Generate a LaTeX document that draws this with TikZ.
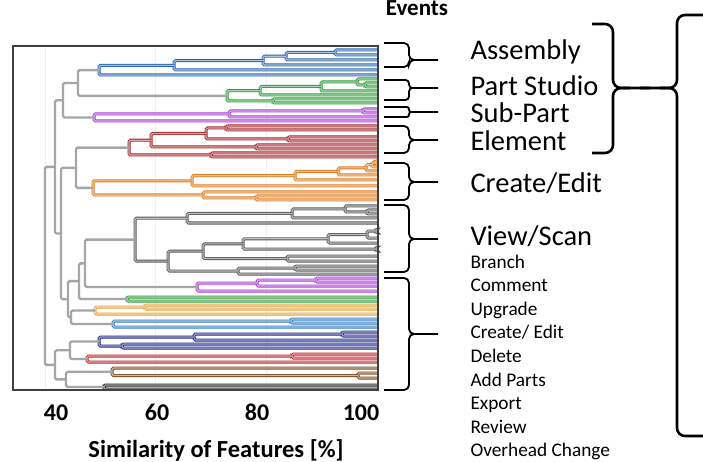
\documentclass[tikz,border=0pt]{standalone}
\usepackage{fontspec}
\setmainfont{Carlito}
\usepackage{xcolor}
\usepackage{tikz}
\usetikzlibrary{calc}
\definecolor{treegray}{HTML}{A6A6A6}
\definecolor{gridgray}{HTML}{F0F0F0}
\definecolor{cAsm}{HTML}{2B67B0}
\definecolor{cPart}{HTML}{2E9B3A}
\definecolor{cSub}{HTML}{A93BD6}
\definecolor{cElem}{HTML}{A3262A}
\definecolor{cEdit}{HTML}{E07B1C}
\definecolor{cView}{HTML}{5A5A5A}
\definecolor{cGold}{HTML}{E5A23A}
\definecolor{cBlue}{HTML}{2F7BC8}
\definecolor{cNavy}{HTML}{1F2A88}
\definecolor{cRed}{HTML}{C0272D}
\definecolor{cBrown}{HTML}{7B4A1C}
\definecolor{cBlack}{HTML}{222222}
\tikzset{
  tree/.style={line width=2.4pt, draw=treegray, rounded corners=1.5pt},
  clus/.style={line width=0.95pt, draw=#1, double=#1!40, double distance=1.1pt, rounded corners=1.5pt},
  frame/.style={line width=1.2pt, draw=black!75},
  brc/.style={line width=1.8pt},
  bigbrc/.style={line width=2.6pt, rounded corners=8pt},
  evhead/.style={anchor=base, font=\fontsize{23}{26}\selectfont\bfseries},
  evbig/.style={anchor=base west, font=\fontsize{28.5}{30}\selectfont},
  evsmall/.style={anchor=base west, font=\fontsize{19.3}{21}\selectfont},
  tick/.style={anchor=base, font=\fontsize{24}{26}\selectfont\bfseries},
  axlab/.style={anchor=base, font=\fontsize{24.5}{26}\selectfont\bfseries}
}
% merge of two branches: style, name, similarity x, upper, lower
\newcommand{\dmerge}[5]{%
  \coordinate (#2) at ($(#4)!0.5!(#5)$);
  \coordinate (#2) at (#3,0 |- #2);
  \draw[#1] (#4) -| (#2) |- (#5);
}
% small event brace: [corner], top, tip, bottom
\newcommand{\ebrace}[4][5pt]{%
  \draw[brc, rounded corners=#1] (384,#2) -- (409,#2) -- (409,#3) -- (438,#3);
  \draw[brc, rounded corners=#1] (384,#4) -- (409,#4) -- (409,#3) -- (420,#3);
}

\begin{document}
\begin{tikzpicture}[x=1pt, y=-1pt]
  \useasboundingbox (0,0) rectangle (703,462);
  \fill[white] (0,0) rectangle (703,462);
  \foreach \x in {45,155,266} \draw[gridgray, line width=0.8pt] (\x,47) -- (\x,389);

  % leaves at 100 %
  \foreach \n/\y in {A1/50,A2/55,A3/60,A4/65,A5/70,A6/75,
      G1/79,G2/83,G3/87,G4/91,G5/95,G6/99,G7/103,
      S1/109,S2/113,S3/117,S4/121,
      E1/126,E2/130,E3/137,E4/141,E5/145,E6/149,E7/153,E8/157,
      C1/161,C2/164,C3/167,C4/171,C5/175,C6/180,C7/186,C8/192,C9/196,C10/200,
      V1/206,V2/210,V3/214,V4/218,V5/223,V6/229,V7/233,V8/238,V9/243,
      V10/247,V11/251,V12/256,V13/261,V14/266,V15/270,V16/274,
      P1/278,P2/282,P3/286,P4/291,Q1/297,Q2/301,O1/305,O2/309,O3/314,
      B1/319,B2/323,B3/327,N1/332,N2/336,N3/340,N4/344,N5/348,
      R1/354,R2/358,R3/362,W1/368,W2/373,W3/378,K1/385,K2/389}
    \coordinate (\n) at (377,\y);

  % clusters
  \foreach \n/\x/\a/\b in {a1/335/A1/A2,a2/286/a1/A3,a3/263/a2/A4,a4/174/a3/A5,a5/99/a4/A6}
    {\dmerge{clus=cAsm}{\n}{\x}{\a}{\b}}
  \foreach \n/\x/\a/\b in {g1/365/G2/G3,g2/357/G1/g1,g3/321/g2/G4,g4/260/g3/G5,g5/273/G6/G7,g6/227/g4/g5}
    {\dmerge{clus=cPart}{\n}{\x}{\a}{\b}}
  \foreach \n/\x/\a/\b in {s1/363/S1/S2,s2/229/s1/S3,s3/94/s2/S4}
    {\dmerge{clus=cSub}{\n}{\x}{\a}{\b}}
  \foreach \n/\x/\a/\b in {e1/226/E1/E2,e2/288/E3/E4,e3/206/e1/e2,e4/256/E5/E6,e5/151/e3/e4,e6/211/E7/E8,e7/129/e5/e6}
    {\dmerge{clus=cElem}{\n}{\x}{\a}{\b}}
  \foreach \n/\x/\a/\b in {c1/375/C1/C2,c2/372/c1/C3,c3/366/c2/C4,c4/338/c3/C5,c5/295/c4/C6,c6/192/c5/C7,
      c7/256/C9/C10,c8/203/C8/c7,c9/93/c6/c8}
    {\dmerge{clus=cEdit}{\n}{\x}{\a}{\b}}
  \foreach \n/\x/\a/\b in {d1/367/V2/V3,d2/345/V1/d1,d3/292/d2/V4,d4/187/d3/V5,d5/376/V6/V7,d6/367/d5/V8,
      d7/328/d6/V9,d8/376/V10/V11,d9/243/d7/d8,d10/287/V12/V13,d11/203/d9/d10,d12/295/V14/V15,
      d13/238/d12/V16,d14/168/d11/d13,d15/135/d4/d14}
    {\dmerge{clus=cView}{\n}{\x}{\a}{\b}}
  \foreach \n/\x/\a/\b in {p1/316/P1/P2,p2/257/p1/P3,p3/197/p2/P4}
    {\dmerge{clus=cSub}{\n}{\x}{\a}{\b}}
  \dmerge{clus=cPart}{q1}{127}{Q1}{Q2}
  \dmerge{clus=cGold}{o1}{145}{O1}{O2}
  \dmerge{clus=cGold}{o2}{95}{o1}{O3}
  \dmerge{clus=cBlue}{u1}{291}{B1}{B2}
  \dmerge{clus=cBlue}{u2}{113}{u1}{B3}
  \foreach \n/\x/\a/\b in {n1/342/N1/N2,n2/194/n1/N3,n3/122/N4/N5,n4/99/n2/n3}
    {\dmerge{clus=cNavy}{\n}{\x}{\a}{\b}}
  \dmerge{clus=cRed}{r1}{292}{R1}{R2}
  \dmerge{clus=cRed}{r2}{87}{r1}{R3}
  \dmerge{clus=cBrown}{w1}{358}{W2}{W3}
  \dmerge{clus=cBrown}{w2}{112}{W1}{w1}
  \dmerge{clus=cBlack}{k1}{104}{K1}{K2}

  % upper tree
  \foreach \n/\x/\a/\b in {t1/78/a5/g6,t2/63/t1/s3,t3/76/e7/c9,t4/85/d15/p3,t5/79/t4/q1,t6/71/o2/u2,
      t7/68/t5/t6,t8/61/t3/t7,t9/55/t2/t8,t10/70/n4/r2,t11/66/w2/k1,t12/55/t10/t11,t13/45/t9/t12}
    {\dmerge{tree}{\n}{\x}{\a}{\b}}

  \draw[frame] (13,46) rectangle (378,390);

  % axis
  \foreach \v/\x in {40/56,60/157,80/257,100/361}
    \node[tick] (tick\v) at (\x,420) {\v};
  \node[axlab] (xlabel) at (216,457) {Similarity of Features [\%]};

  % event labels
  \node[evhead] (events) at (417,16) {Events};
  \node[evbig] (assembly) at (467,60) {Assembly};
  \node[evbig] (studio) at (467,96) {Part Studio};
  \node[evbig] (subpart) at (467,123) {Sub-Part};
  \node[evbig] (element) at (467,151) {Element};
  \node[evbig] (create) at (467,193) {Create/Edit};
  \node[evbig] (view) at (467,245) {View/Scan};
  \foreach \t [count=\i from 0] in {Branch,Comment,Upgrade,Create/ Edit,Delete,Add Parts,Export,Review,Overhead Change}
    \node[evsmall] (small\i) at (467,268+23.6*\i) {\t};

  % braces
  \ebrace{43}{60}{67}
  \ebrace[3.5pt]{80}{88}{100}
  \ebrace[2.2pt]{107}{112}{117}
  \ebrace{126}{140}{153}
  \ebrace{163}{182}{200}
  \ebrace{205}{239}{272}
  \ebrace{278}{334}{390}
  \draw[bigbrc] (592,24) -- (613,24) -- (613,88) -- (650,88);
  \draw[bigbrc] (592,153) -- (613,153) -- (613,88) -- (630,88);
  \draw[bigbrc] (704,15) -- (677,15) -- (677,88) -- (640,88);
  \draw[bigbrc] (704,436) -- (677,436) -- (677,88) -- (660,88);
  \draw[line width=2.6pt] (620,88) -- (670,88);
\end{tikzpicture}
\end{document}
